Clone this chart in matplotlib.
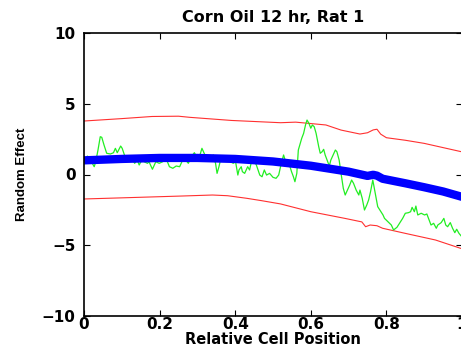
import matplotlib
matplotlib.use('Agg')
import matplotlib.pyplot as plt

plt.rcParams['font.family'] = ['DejaVu Sans']
plt.rcParams['font.weight'] = 'bold'

# fitted random effect (thick blue)
fit_x = [0.0, 0.1, 0.2, 0.3, 0.4, 0.5, 0.6, 0.7, 0.75, 0.765, 0.775, 0.79, 0.85, 0.9, 0.95, 1.0]
fit_y = [1.0, 1.1, 1.17, 1.17, 1.1, 0.92, 0.62, 0.2, -0.1, -0.02, -0.08, -0.3, -0.62, -0.9, -1.2, -1.58]

# upper / lower bands (red)
up_x = [0.0, 0.1, 0.18, 0.25, 0.28, 0.39, 0.52, 0.56, 0.64, 0.68, 0.73, 0.75, 0.765, 0.775, 0.785, 0.8, 0.85, 0.9, 0.95, 1.0]
up_y = [3.78, 3.95, 4.1, 4.12, 4.04, 3.82, 3.66, 3.7, 3.5, 3.14, 2.86, 2.95, 3.15, 3.2, 2.85, 2.6, 2.42, 2.2, 1.9, 1.6]
lo_x = [0.0, 0.1, 0.26, 0.34, 0.38, 0.43, 0.47, 0.52, 0.6, 0.69, 0.735, 0.745, 0.757, 0.775, 0.79, 0.85, 0.93, 1.0]
lo_y = [-1.73, -1.65, -1.52, -1.45, -1.5, -1.68, -1.85, -2.08, -2.63, -3.1, -3.35, -3.69, -3.57, -3.62, -3.8, -4.16, -4.63, -5.25]

# observed (green)
obs_x = [0.0, 0.009, 0.016, 0.022, 0.027, 0.031, 0.037, 0.043, 0.047, 0.053, 0.06, 0.07, 0.078,
         0.083, 0.088, 0.097, 0.101, 0.11, 0.119, 0.128, 0.134, 0.141, 0.146, 0.155, 0.159,
         0.168, 0.172, 0.181, 0.19, 0.199, 0.208, 0.217, 0.226, 0.235, 0.244, 0.253,
         0.263, 0.269, 0.276, 0.284, 0.292, 0.298, 0.306, 0.312, 0.318, 0.326, 0.33, 0.335,
         0.342, 0.348, 0.352, 0.357, 0.36, 0.37, 0.377, 0.387, 0.395, 0.401, 0.407, 0.41,
         0.416, 0.419, 0.425, 0.433, 0.438, 0.442, 0.449, 0.456, 0.465, 0.471, 0.477, 0.483,
         0.491, 0.5, 0.508, 0.515, 0.522, 0.528, 0.532, 0.536, 0.541, 0.545, 0.549, 0.554,
         0.558, 0.563, 0.567, 0.576, 0.581, 0.586, 0.59, 0.595, 0.6, 0.604, 0.609, 0.614,
         0.621, 0.625, 0.63, 0.634, 0.638, 0.643, 0.649, 0.653, 0.659, 0.665, 0.669, 0.675,
         0.68, 0.686, 0.691, 0.697, 0.703, 0.708, 0.713, 0.72, 0.727, 0.73, 0.736, 0.742,
         0.748, 0.753, 0.758, 0.764, 0.772, 0.777, 0.791, 0.795, 0.804, 0.813, 0.819, 0.828,
         0.836, 0.843, 0.85, 0.858, 0.864, 0.868, 0.874, 0.878, 0.883, 0.892, 0.901, 0.907,
         0.913, 0.918, 0.925, 0.932, 0.936, 0.945, 0.952, 0.957, 0.962, 0.969, 0.975, 0.981,
         0.986, 0.992, 0.998]
obs_y = [0.9, 1.3, 1.14, 0.79, 0.55, 0.9, 1.73, 2.67, 2.63, 2.08, 1.5, 1.45, 1.54,
         1.85, 1.54, 2.01, 1.85, 1.14, 1.02, 1.07, 0.79, 1.02, 0.67, 1.14, 0.9,
         0.79, 0.9, 0.37, 0.9, 0.79, 0.9, 1.14, 0.55, 0.44, 0.6, 0.55,
         1.14, 1.02, 0.79, 1.26, 1.54, 1.26, 1.31, 1.85, 1.5, 1.02, 1.22, 1.02,
         1.38, 0.79, 0.08, 0.55, 0.9, 1.14, 1.26, 0.9, 0.79, 0.9, -0.04, 0.32,
         0.55, 0.2, 0.08, 0.55, 0.32, 0.79, 1.07, 0.67, -0.04, -0.16, 0.32, -0.04,
         0.08, -0.2, -0.27, -0.04, 0.79, 1.38, 1.02, 0.67, 0.79, 0.55, 0.2, -0.16,
         -0.51, 0.08, 1.73, 2.56, 2.91, 3.5, 3.85, 3.62, 3.27, 3.5, 3.38, 2.91,
         1.96, 1.5, 1.61, 1.78, 1.38, 1.02, 0.6, 1.02, 1.38, 1.73, 1.61, 1.02,
         0.08, -0.98, -1.45, -1.1, -0.74, -0.39, -0.62, -1.1, -1.45, -1.1, -1.68, -2.51,
         -2.16, -1.8, -1.22, -0.39, -1.57, -2.27, -2.86, -3.1, -3.33, -3.57, -3.92, -3.73,
         -3.4, -3.1, -2.74, -2.7, -2.63, -2.32, -2.63, -2.23, -2.86, -2.74, -2.86, -2.79,
         -3.22, -3.57, -3.45, -3.8, -3.57, -3.4, -3.1, -3.57, -3.69, -3.4, -3.8, -4.11,
         -3.87, -4.16, -4.35]

x_ticks = [0, 0.2, 0.4, 0.6, 0.8, 1]
x_labels = ['0', '0.2', '0.4', '0.6', '0.8', '1']
y_ticks = [-10, -5, 0, 5, 10]

fig = plt.figure(figsize=(4.61, 3.54), dpi=100)
ax = fig.add_axes([84 / 461, 38 / 354, 378 / 461, 283 / 354])

ax.plot(up_x, up_y, color='#ff3030', lw=0.8)
ax.plot(lo_x, lo_y, color='#ff3030', lw=0.8)
ax.plot(obs_x, obs_y, color='#22ee22', lw=0.9)
ax.plot(fit_x, fit_y, color='#0000ff', lw=6.0, solid_capstyle='butt')

ax.set_xlim(0, 1)
ax.set_ylim(-10, 10)
ax.set_xticks(x_ticks)
ax.set_xticklabels(x_labels)
ax.set_yticks(y_ticks)
ax.tick_params(direction='in', length=4, width=0.8, top=True, right=True,
               labelsize=11)
ax.tick_params(axis='x', pad=1)
ax.tick_params(axis='y', pad=6)
for s in ax.spines.values():
    s.set_linewidth(1.2)

ax.set_title('Corn Oil 12 hr, Rat 1', fontsize=11.5, fontweight='bold', pad=8)
ax.set_xlabel('Relative Cell Position', fontsize=10.5, fontweight='bold', labelpad=0)
ax.set_ylabel('Random Effect', fontsize=9.5, fontweight='bold', labelpad=10,
              family='Liberation Sans')

fig.savefig('out.png', dpi=100)
